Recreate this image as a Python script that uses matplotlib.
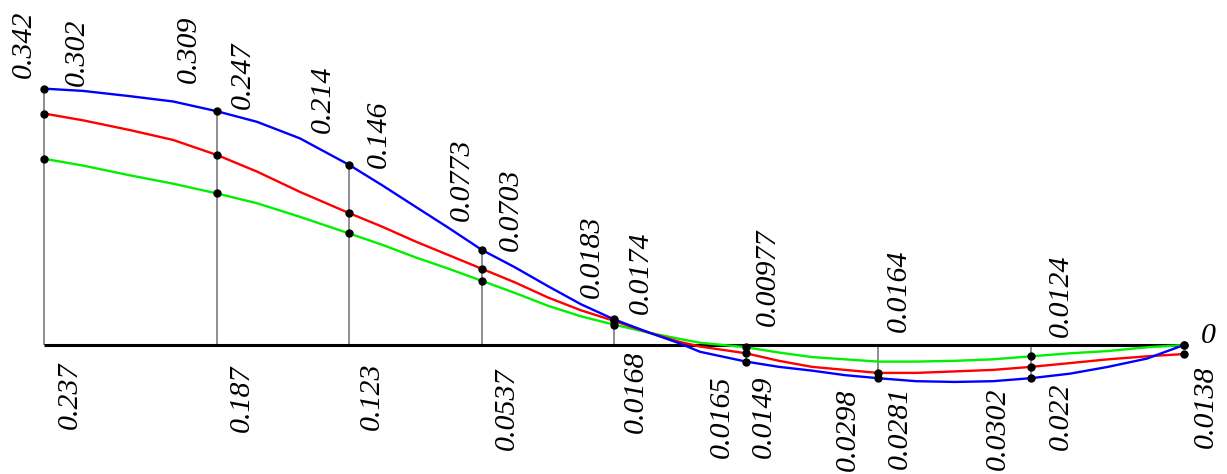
import numpy as np
import matplotlib.pyplot as plt

x = [0, 0.39, 0.86, 1.29, 1.73, 2.13, 2.56, 3.05, 3.38, 3.72, 4.05, 4.38,
     4.71, 5.04, 5.37, 5.70, 6.06, 6.36, 6.56, 7.02, 7.35, 7.68, 8.01, 8.34,
     8.72, 9.11, 9.49, 9.87, 10.26, 10.64, 11.03, 11.40]
blue = [0.340, 0.337, 0.330, 0.323, 0.310, 0.296, 0.274, 0.239, 0.212, 0.183,
        0.155, 0.126, 0.103, 0.078, 0.054, 0.034, 0.016, 0.002, -0.009,
        -0.022, -0.029, -0.034, -0.040, -0.044, -0.048, -0.049, -0.048,
        -0.044, -0.038, -0.029, -0.018, 0.0]
red = [0.307, 0.298, 0.285, 0.272, 0.252, 0.230, 0.203, 0.175, 0.157, 0.137,
       0.119, 0.101, 0.083, 0.063, 0.046, 0.032, 0.016, 0.004, -0.002,
       -0.011, -0.021, -0.029, -0.033, -0.037, -0.037, -0.035, -0.033,
       -0.029, -0.024, -0.019, -0.015, -0.012]
green = [0.247, 0.238, 0.225, 0.214, 0.201, 0.188, 0.170, 0.148, 0.133, 0.116,
         0.101, 0.085, 0.069, 0.052, 0.038, 0.027, 0.016, 0.008, 0.003,
         -0.003, -0.010, -0.016, -0.019, -0.022, -0.022, -0.021, -0.019,
         -0.015, -0.011, -0.008, -0.003, 0.0]
stations = [0, 4, 7, 11, 15, 19, 23, 27, 31]

top_labels = ["0.342", "0.302", "0.309", "0.247", "0.214", "0.146", "0.0773",
              "0.0703", "0.0183", "0.0174", "0.00977", "0.0164", "0.0124"]
bottom_labels = ["0.237", "0.187", "0.123", "0.0537", "0.0168", "0.0165",
                 "0.0149", "0.0298", "0.0281", "0.0302", "0.022", "0.0138"]
end_label = "0"

# label centres in picture pixels
top_pos = [(24, 44), (77, 52), (189, 49), (243, 75), (323, 99), (379, 134),
           (462, 180), (511, 210), (592, 257), (641, 273), (768, 277),
           (899, 291), (1061, 296)]
bottom_pos = [(70, 395), (242, 398), (372, 396), (507, 409), (636, 392),
              (722, 417), (764, 417), (848, 430), (900, 428), (998, 429),
              (1061, 416), (1206, 407)]


def px(u, v):
    """picture pixel -> data coords"""
    return (u - 44) / 100.0, (345 - v) / 754.0


fig = plt.figure(figsize=(12.27, 4.74), dpi=100)
ax = fig.add_axes([0, 0, 1, 1])
ax.set_xlim(-0.44, 11.83)
ax.set_ylim(-129 / 754.0, 345 / 754.0)
ax.axis('off')

xs = np.array(x)[stations]
bs = np.array(blue)[stations]
rs = np.array(red)[stations]
gs = np.array(green)[stations]

# station ordinates
ax.vlines(xs[:-1], 0, bs[:-1], color='#707070', lw=1.1, zorder=1)
ax.hlines(0, xs[0], xs[-1], color='black', lw=2.2, zorder=2)

ax.plot(x, green, color='#00f000', lw=1.7, zorder=3)
ax.plot(x, red, color='#ff0000', lw=1.7, zorder=4)
ax.plot(x, blue, color='#0000ff', lw=1.7, zorder=5)

gmask = np.ones(len(xs), bool)
gmask[6] = False
ax.plot(xs[gmask], gs[gmask], 'o', color='black', ms=5, zorder=6)
ax.plot(xs, rs, 'o', color='black', ms=5, zorder=6)
ax.plot(xs, bs, 'o', color='black', ms=5, zorder=6)

font = dict(family='Liberation Serif', style='italic', size=21.5)
for txt, (u, v) in zip(top_labels + bottom_labels, top_pos + bottom_pos):
    tx, ty = px(u, v)
    ax.text(tx, ty, txt, rotation=90, ha='center', va='center', **font)
tx, ty = px(1208, 336)
ax.text(tx, ty, end_label, ha='center', va='center', **font)

fig.savefig('out.png', dpi=100)
